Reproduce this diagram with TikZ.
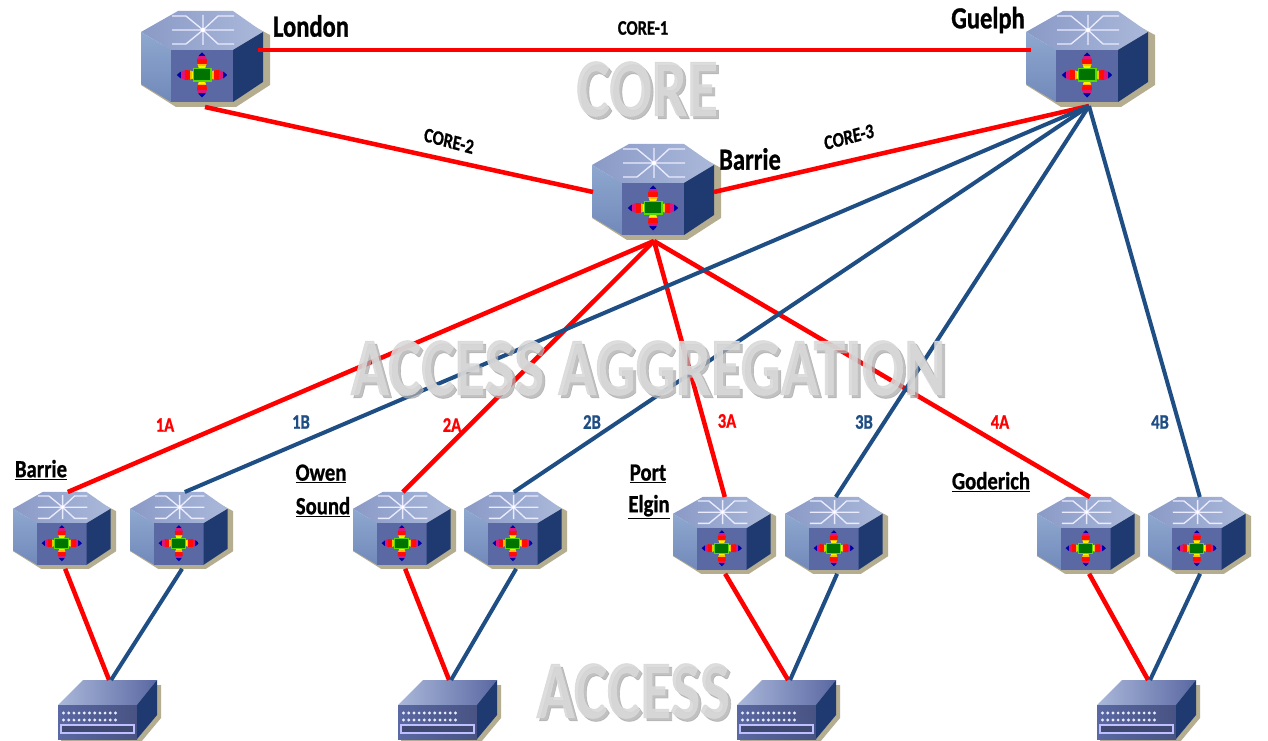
\documentclass[tikz,border=0pt]{standalone}
\usepackage{fontspec}
\setmainfont[BoldFeatures={FakeBold=1.0}]{Carlito}
\usetikzlibrary{calc}
\definecolor{linkred}{HTML}{FF0000}
\definecolor{linkblue}{HTML}{1F4E85}
\definecolor{shadowtan}{HTML}{B5AD90}
\definecolor{facedark}{HTML}{1F3A70}
\definecolor{facefront}{HTML}{5A68A3}
\definecolor{faceleftA}{HTML}{8FA8CF}
\definecolor{faceleftB}{HTML}{7089BA}
\definecolor{facetopA}{HTML}{8A9AC6}
\definecolor{facetopB}{HTML}{AAB8DA}
\definecolor{bigtext}{HTML}{D9D9D9}
\definecolor{bigshadow}{HTML}{ADADAD}
\tikzset{
  devbox/.style={inner sep=0pt,outer sep=0pt,draw=none,fill=none,rectangle},
  redlink/.style={draw=linkred,line width=3.4pt},
  bluelink/.style={draw=linkblue,line width=3pt},
  squeeze/.style={transform shape,xscale=#1},
  citylabel/.style={font=\bfseries\fontsize{23}{23}\selectfont,squeeze=.8,inner sep=0pt},
  sitelabel/.style={font=\bfseries\fontsize{18.5}{18.5}\selectfont,squeeze=.84,inner sep=0pt},
  linklabel/.style={font=\bfseries\fontsize{15.5}{15.5}\selectfont,squeeze=.8,inner sep=0pt},
  bigmain/.style={text=bigtext,font=\bfseries\fontsize{#1}{#1}\selectfont,squeeze=.76,inner sep=0pt,opacity=.88},
  bigback/.style={text=bigshadow,font=\bfseries\fontsize{#1}{#1}\selectfont,squeeze=.76,inner sep=0pt,opacity=.75},
}
\newcommand{\rainarm}{%
  \begin{scope}
    \clip (0,-22.5) -- (3,-19.5) -- (5,-15) -- (4.6,-11) -- (3,-6.5) -- (-3,-6.5) -- (-4.6,-11) -- (-5,-15) -- (-3,-19.5) -- cycle;
    \fill[blue!65!black] (-6,-23) rectangle (6,-18.5);
    \fill[magenta!70!purple] (-6,-18.5) rectangle (6,-15.5);
    \fill[red!90!orange] (-6,-15.5) rectangle (6,-10.5);
    \fill[orange!50!yellow] (-6,-10.5) rectangle (6,-9);
    \fill[yellow] (-6,-9) rectangle (6,-6);
  \end{scope}
}
\newcommand{\routershape}{%
  \fill[shadowtan] (37,4) -- (92,4) -- (129,24) -- (129,74) -- (95,96) -- (35,96) -- (0,74) -- cycle;
  \path[left color=facetopA,right color=facetopB] (0,21) -- (37,0) -- (92,0) -- (122,21) -- (92,39) -- (30,39) -- cycle;
  \path[top color=faceleftA,bottom color=faceleftB] (0,21) -- (30,39) -- (30,91) -- (0,73) -- cycle;
  \fill[facefront] (30,39) rectangle (92,91);
  \fill[facedark] (92,39) -- (122,21) -- (122,71) -- (92,91) -- cycle;
  \draw[white!92!blue,line width=1pt] (31,19) -- (93,19) (62,4) -- (62,34)
    (31,5) -- (45,5) -- (62,19) -- (77,5) -- (93,5)
    (31,33) -- (45,33) -- (62,19) -- (77,33) -- (93,33);
  \fill[white] (62,19) circle (2);
  \begin{scope}[shift={(61,64)}]
    \begin{scope}[rotate=0]\rainarm\end{scope}
    \begin{scope}[rotate=180]\rainarm\end{scope}
    \begin{scope}[rotate=90,yscale=1.12]\rainarm\end{scope}
    \begin{scope}[rotate=270,yscale=1.12]\rainarm\end{scope}
    \fill[green!60!yellow!85!black] (-9.5,-7) rectangle (9.5,7);
    \fill[green!45!black] (-8,-5.5) rectangle (8,5.5);
  \end{scope}
}
% name, left, top, scale
\newcommand{\router}[4]{%
  \pgfmathsetmacro{\rw}{91.5*#4}\pgfmathsetmacro{\rh}{72*#4}%
  \begin{scope}[shift={(#2,#3)},scale=#4]\routershape\end{scope}
  \node[devbox,minimum width=\rw pt,minimum height=\rh pt] (#1) at ({#2+61*#4},{#3+48*#4}) {};
}
\newcommand{\accessswitch}[3]{%
  \begin{scope}[shift={(#2,#3)}]
    \fill[shadowtan] (25,5) -- (103,5) -- (103,38) -- (83,62) -- (3,62) -- (3,25) -- cycle;
    \path[left color=facetopB,right color=facefront] (0,25) -- (25,0) -- (99,0) -- (79,25) -- cycle;
    \path[left color=facefront,right color=facefront!80!black] (0,25) rectangle (79,59);
    \fill[facedark] (79,25) -- (99,0) -- (99,35) -- (79,59) -- cycle;
    \foreach \dotrow in {33,40}{\foreach \dotcol in {0,...,10}{
      \fill[white!92!blue] ({5.5+\dotcol*5.2},\dotrow) circle (1.6);}}
    \draw[white!75!blue,fill=facefront!70!black,line width=.8pt] (3,45) rectangle (76,53);
  \end{scope}
  \node[devbox,minimum width=74.25pt,minimum height=44.25pt] (#1) at ({#2+49.5},{#3+29.5}) {};
}
\begin{document}
\begin{tikzpicture}[x=.75pt,y=-.75pt]
\path[use as bounding box,fill=white] (0,0) rectangle (1268,741);
% devices
\router{london}{141}{11}{1}
\router{guelph}{1026}{11}{1}
\router{barriecore}{592}{144}{1}
\router{barrieA}{13}{492}{.8}
\router{barrieB}{130}{492}{.8}
\router{owenA}{353}{492}{.8}
\router{owenB}{464}{492}{.8}
\router{portA}{673}{497}{.8}
\router{portB}{785}{497}{.8}
\router{godA}{1037}{497}{.8}
\router{godB}{1148}{497}{.8}
\accessswitch{swA}{58}{680}
\accessswitch{swB}{398}{680}
\accessswitch{swC}{737}{680}
\accessswitch{swD}{1097}{680}
% core links
\draw[redlink] ([shift={(-5,-9)}]london.east) -- ([shift={(5,-9)}]guelph.west);
\draw[redlink] ([shift={(3,0)}]london.south) -- ([shift={(1,0)}]barriecore.west);
\draw[redlink] (barriecore.east) -- ([shift={(2,-1)}]guelph.south);
% aggregation links
\foreach \target/\dx in {barrieA/6,owenA/1,portA/3,godA/4}
  \draw[redlink] ([shift={(1,1)}]barriecore.south) -- ([shift={(\dx,0)}]\target.north);
\foreach \target/\dx in {barrieB/6,owenB/1,portB/2,godB/3}
  \draw[bluelink] ([shift={(2,-1)}]guelph.south) -- ([shift={(\dx,0)}]\target.north);
% access links
\foreach \up/\down in {barrieA/swA,owenA/swB,portA/swC,godA/swD}
  \draw[redlink] ([xshift=2.5pt]\up.south) -- ([xshift=1.2pt]\down.north);
\foreach \up/\down in {barrieB/swA,owenB/swB,portB/swC,godB/swD}
  \draw[bluelink] ([xshift=2.5pt]\up.south) -- ([xshift=2.7pt]\down.north);
% watermark titles
\node[bigback=62] (coreS) at (650,92) {CORE};
\node[bigmain=62] (coreT) at (647,89) {CORE};
\node[bigback=62] (aggS) at (651,371) {ACCESS AGGREGATION};
\node[bigmain=62] (aggT) at (648,368) {ACCESS AGGREGATION};
\node[bigback=62] (accS) at (636,694) {ACCESS};
\node[bigmain=62] (accT) at (633,691) {ACCESS};
% labels
\node[citylabel] (lblLondon) at (311,26) {London};
\node[citylabel] (lblGuelph) at (988,20) {Guelph};
\node[citylabel] (lblBarrie) at (750,159) {Barrie};
\node[linklabel] (c1) at (643,28) {CORE-1};
\node[linklabel,rotate=-12] (c2) at (449,141) {CORE-2};
\node[linklabel,rotate=12] (c3) at (849,137) {CORE-3};
\node[linklabel,text=linkred] (l1a) at (165,425) {1A};
\node[linklabel,text=linkblue] (l1b) at (301,422) {1B};
\node[linklabel,text=linkred] (l2a) at (452,425) {2A};
\node[linklabel,text=linkblue] (l2b) at (592,422) {2B};
\node[linklabel,text=linkred] (l3a) at (727,421) {3A};
\node[linklabel,text=linkblue] (l3b) at (864,422) {3B};
\node[linklabel,text=linkred] (l4a) at (1000,422) {4A};
\node[linklabel,text=linkblue] (l4b) at (1160,422) {4B};
\node[sitelabel] (sBarrie) at (41,470) {\underline{Barrie}};
\node[sitelabel] (sOwen) at (321,474) {\underline{Owen}};
\node[sitelabel] (sSound) at (323,507) {\underline{Sound}};
\node[sitelabel] (sPort) at (648,474) {\underline{Port}};
\node[sitelabel] (sElgin) at (649,507) {\underline{Elgin}};
\node[sitelabel] (sGod) at (991,482) {\underline{Goderich}};
\end{tikzpicture}
\end{document}
